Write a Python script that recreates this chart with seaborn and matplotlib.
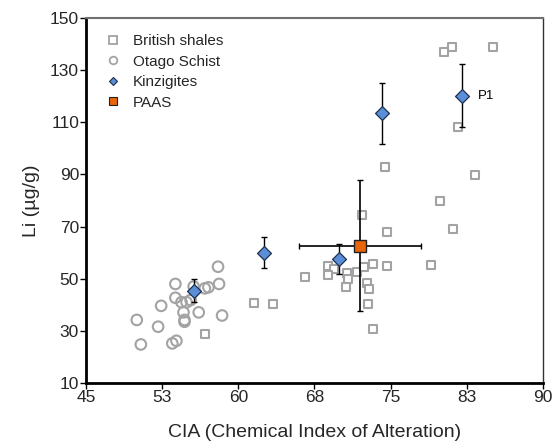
import matplotlib
matplotlib.use("Agg")
import matplotlib.pyplot as plt
import seaborn as sns
import pandas as pd
from matplotlib.lines import Line2D

# ---- data ----
shale_cia = [56.7, 61.5, 63.4, 66.6, 68.8, 69.4, 68.8, 70.75, 71.7, 72.4, 73.3, 74.6, 79.0,
             70.8, 70.6, 72.7, 72.9, 72.75, 73.3, 72.2, 74.6, 74.4, 79.9, 81.1, 83.3, 81.6,
             80.3, 81.0, 85.1]
shale_li = [28.8, 40.7, 40.2, 50.7, 55.0, 53.6, 51.3, 52.3, 52.5, 54.5, 55.6, 55.0, 55.4,
            49.8, 46.9, 48.4, 45.9, 40.4, 30.6, 74.3, 68.0, 93.0, 79.9, 68.9, 89.8, 108.3,
            136.8, 138.8, 139.0]

otago_cia = [58.0, 53.8, 58.1, 56.7, 57.05, 53.8, 54.4, 54.9, 55.3, 52.4, 54.6, 56.1, 58.4,
             50.0, 54.7, 54.7, 52.1, 50.4, 53.5, 53.9, 55.6]
otago_li = [54.6, 48.0, 48.0, 46.3, 46.7, 42.7, 41.0, 41.0, 41.8, 39.6, 37.1, 37.1, 35.9,
            34.2, 34.2, 33.5, 31.6, 24.8, 25.2, 26.2, 47.0]

kinz_cia = [55.6, 62.5, 69.9, 74.1, 82.0]
kinz_li = [45.4, 60.0, 57.6, 113.4, 120.2]
kinz_err = [4.5, 6.0, 5.7, 11.6, 12.2]

paas_cia = [72.0]
paas_li = [62.7]
paas_xerr = [6.0]
paas_yerr = [25.0]

x_ticks = [45, 52.5, 60, 67.5, 75, 82.5, 90]
x_labels = ["45", "53", "60", "68", "75", "83", "90"]
y_ticks = [10, 30, 50, 70, 90, 110, 130, 150]

sns.set_theme(style="white")
plt.rcParams["font.family"] = ["Liberation Sans", "DejaVu Sans"]

fig = plt.figure(figsize=(5.6, 4.43), dpi=100)
ax = fig.add_axes([0.1536, 0.1354, 0.8160, 0.8240])

gray = "#a3a3a3"
blue = "#5a8fd8"
orange = "#e8650a"

df_sh = pd.DataFrame({"cia": shale_cia, "li": shale_li})
df_ot = pd.DataFrame({"cia": otago_cia, "li": otago_li})
df_k = pd.DataFrame({"cia": kinz_cia, "li": kinz_li})
df_p = pd.DataFrame({"cia": paas_cia, "li": paas_li})

sns.scatterplot(data=df_sh, x="cia", y="li", marker="s", s=40, facecolor="white",
                edgecolor=gray, linewidth=1.5, ax=ax, zorder=2)
sns.scatterplot(data=df_ot, x="cia", y="li", marker="o", s=58, facecolor="none",
                edgecolor=gray, linewidth=1.5, ax=ax, zorder=2)

ax.errorbar(kinz_cia, kinz_li, yerr=kinz_err, fmt="none", ecolor="black",
            elinewidth=1.0, capsize=2.5, capthick=1.0, zorder=3)
ax.errorbar(paas_cia, paas_li, xerr=paas_xerr, yerr=paas_yerr, fmt="none", ecolor="black",
            elinewidth=1.2, capsize=2.5, capthick=1.0, zorder=3)

sns.scatterplot(data=df_k, x="cia", y="li", marker="D", s=50, color=blue,
                edgecolor="#1f2f4f", linewidth=0.9, ax=ax, zorder=4)
sns.scatterplot(data=df_p, x="cia", y="li", marker="s", s=78, color=orange,
                edgecolor="#222222", linewidth=1.0, ax=ax, zorder=5)

ax.text(83.6, 120.2, "P1", fontsize=9.5, va="center", ha="left", color="black")

ax.set_xlim(45, 90)
ax.set_ylim(10, 150)
ax.set_xticks(x_ticks)
ax.set_xticklabels(x_labels)
ax.set_yticks(y_ticks)
ax.tick_params(axis="both", labelsize=12.5, direction="out", length=4, width=1,
               color="black", left=True, bottom=True, pad=1)
ax.set_xlabel("CIA (Chemical Index of Alteration)", fontsize=14, labelpad=14)
ax.set_ylabel("Li (µg/g)", fontsize=14, labelpad=7)

for side in ["left", "bottom"]:
    ax.spines[side].set_color("black")
    ax.spines[side].set_linewidth(2.0)
ax.spines["top"].set_color("#707070")
ax.spines["top"].set_linewidth(1.5)
ax.spines["right"].set_color("#333333")
ax.spines["right"].set_linewidth(1.0)

handles = [
    Line2D([], [], marker="s", linestyle="none", markersize=5.5, markerfacecolor="white",
           markeredgecolor=gray, markeredgewidth=1.3),
    Line2D([], [], marker="o", linestyle="none", markersize=5.5, markerfacecolor="white",
           markeredgecolor=gray, markeredgewidth=1.3),
    Line2D([], [], marker="D", linestyle="none", markersize=4.2, markerfacecolor=blue,
           markeredgecolor="#1f2f4f", markeredgewidth=0.8),
    Line2D([], [], marker="s", linestyle="none", markersize=5.5, markerfacecolor=orange,
           markeredgecolor="#222222", markeredgewidth=0.8),
]
labels = ["British shales", "Otago Schist", "Kinzigites", "PAAS"]
ax.legend(handles, labels, loc="upper left", frameon=False, fontsize=11,
          handlelength=0.8, handletextpad=0.9, labelspacing=0.42,
          borderpad=0, borderaxespad=0, bbox_to_anchor=(0.046, 0.955))

fig.savefig("out.png", dpi=100)
